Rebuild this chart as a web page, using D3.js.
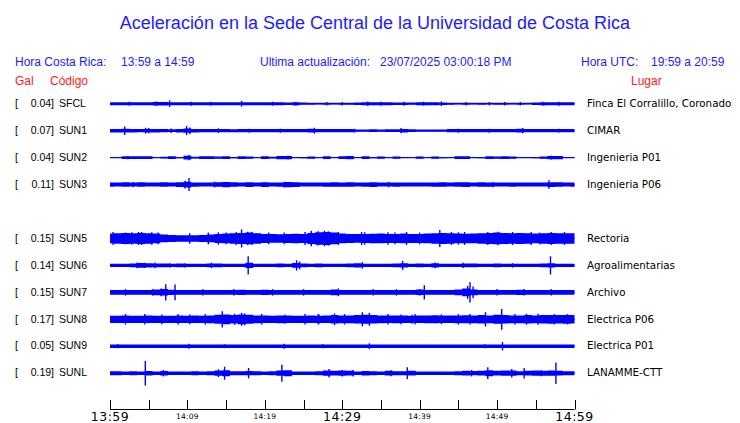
<!DOCTYPE html>
<html><head><meta charset="utf-8">
<script src="https://cdn.jsdelivr.net/npm/d3@7"></script>
<style>
html,body{margin:0;padding:0;background:#fff;}
svg{display:block;}
</style></head>
<body>
<script>
// ---------- data ----------
const title = "Aceleración en la Sede Central de la Universidad de Costa Rica";
const horaCR = "13:59 a 14:59";
const ultima = "23/07/2025 03:00:18 PM";
const horaUTC = "19:59 a 20:59";

const codes = ["SFCL","SUN1","SUN2","SUN3","SUN5","SUN6","SUN7","SUN8","SUN9","SUNL"];
const slots = [0,1,2,3,5,6,7,8,9,10];           // SUN4 slot left empty
const peaks = [0.04,0.07,0.04,0.11,0.15,0.14,0.15,0.17,0.05,0.19];
const places = ["Finca El Corralillo, Coronado","CIMAR","Ingenieria P01","Ingenieria P06",
  "Rectoria","Agroalimentarias","Archivo","Electrica P06","Electrica P01","LANAMME-CTT"];

const tickMinutes = [0,5,10,15,20,25,30,35,40,45,50,55,60];
const tickLabels = {0:"13:59",10:"14:09",20:"14:19",30:"14:29",40:"14:39",50:"14:49",60:"14:59"};
const majorTicks = [0,30,60];

// envelope half-amplitude (Gal), one value per minute 0..60
const envSFCL = [0.024,0.024,0.024,0.024,0.024,0.024,0.026,0.028,0.024,0.024,
  0.024,0.024,0.024,0.024,0.024,0.024,0.024,0.024,0.024,0.022,
  0.024,0.024,0.022,0.02,0.022,0.018,0.015,0.013,0.015,0.013,
  0.015,0.015,0.02,0.024,0.024,0.024,0.022,0.02,0.02,0.018,
  0.024,0.024,0.024,0.02,0.015,0.013,0.015,0.013,0.015,0.013,
  0.015,0.015,0.013,0.015,0.013,0.02,0.024,0.024,0.024,0.024,0.024];
const envSUN1 = [0.027,0.027,0.029,0.027,0.025,0.027,0.027,0.025,0.02,0.027,
  0.033,0.027,0.025,0.025,0.025,0.025,0.023,0.025,0.025,0.025,
  0.025,0.025,0.025,0.025,0.025,0.025,0.029,0.025,0.025,0.025,
  0.025,0.025,0.016,0.018,0.02,0.018,0.02,0.022,0.027,0.022,
  0.018,0.016,0.018,0.016,0.025,0.025,0.025,0.025,0.025,0.025,
  0.025,0.025,0.025,0.029,0.025,0.025,0.025,0.025,0.025,0.025,0.025];
const envSUN2 = [0.008,0.008,0.02,0.02,0.022,0.02,0.008,0.012,0.02,0.01,
  0.028,0.012,0.02,0.02,0.018,0.02,0.01,0.02,0.018,0.008,
  0.02,0.012,0.024,0.026,0.008,0.01,0.018,0.008,0.02,0.008,
  0.022,0.024,0.008,0.02,0.01,0.018,0.008,0.018,0.008,0.008,
  0.018,0.008,0.018,0.01,0.008,0.02,0.02,0.008,0.01,0.02,
  0.018,0.02,0.018,0.008,0.008,0.01,0.018,0.024,0.026,0.008,0.008];
const envSUN3 = [0.032,0.03,0.034,0.03,0.034,0.03,0.03,0.034,0.03,0.036,
  0.045,0.032,0.03,0.03,0.034,0.04,0.034,0.03,0.036,0.03,
  0.036,0.03,0.032,0.04,0.036,0.03,0.03,0.03,0.032,0.034,
  0.032,0.034,0.03,0.032,0.036,0.03,0.03,0.032,0.03,0.03,
  0.03,0.03,0.032,0.034,0.03,0.034,0.036,0.03,0.034,0.032,
  0.03,0.03,0.032,0.03,0.03,0.03,0.03,0.036,0.034,0.03,0.032];
const envSUN5 = [0.075,0.08,0.085,0.08,0.085,0.08,0.075,0.06,0.055,0.05,
  0.05,0.05,0.055,0.06,0.07,0.075,0.08,0.085,0.09,0.08,
  0.07,0.068,0.065,0.07,0.072,0.07,0.085,0.095,0.1,0.09,
  0.075,0.07,0.068,0.07,0.072,0.075,0.07,0.07,0.075,0.07,
  0.07,0.075,0.08,0.085,0.08,0.075,0.072,0.075,0.08,0.085,
  0.09,0.085,0.08,0.085,0.08,0.075,0.08,0.085,0.08,0.08,0.08];
const envSUN6 = [0.026,0.026,0.026,0.03,0.036,0.032,0.028,0.028,0.026,0.028,
  0.026,0.026,0.026,0.028,0.028,0.026,0.026,0.026,0.04,0.026,
  0.026,0.026,0.028,0.026,0.036,0.03,0.026,0.028,0.026,0.026,
  0.026,0.028,0.034,0.026,0.026,0.026,0.026,0.03,0.034,0.026,
  0.028,0.026,0.032,0.026,0.026,0.026,0.028,0.028,0.026,0.026,
  0.028,0.026,0.026,0.026,0.026,0.026,0.028,0.034,0.026,0.026,0.026];
const envSUN7 = [0.036,0.038,0.036,0.036,0.038,0.036,0.045,0.05,0.04,0.036,
  0.036,0.038,0.036,0.036,0.036,0.036,0.038,0.04,0.036,0.038,
  0.04,0.036,0.036,0.036,0.036,0.038,0.036,0.036,0.036,0.045,
  0.036,0.036,0.036,0.038,0.036,0.036,0.036,0.036,0.036,0.036,
  0.042,0.036,0.036,0.036,0.036,0.045,0.06,0.045,0.036,0.036,
  0.036,0.036,0.036,0.04,0.036,0.036,0.036,0.036,0.036,0.036,0.036];
const envSUN8 = [0.055,0.055,0.057,0.055,0.055,0.058,0.055,0.055,0.055,0.057,
  0.055,0.057,0.055,0.06,0.07,0.075,0.065,0.075,0.07,0.06,
  0.058,0.056,0.06,0.058,0.056,0.056,0.058,0.056,0.058,0.065,
  0.06,0.06,0.065,0.07,0.065,0.06,0.058,0.06,0.058,0.056,
  0.058,0.06,0.062,0.058,0.058,0.06,0.062,0.06,0.065,0.06,
  0.07,0.065,0.06,0.06,0.065,0.06,0.065,0.068,0.065,0.068,0.065];
const envSUN9 = [0.026,0.026,0.026,0.026,0.026,0.026,0.026,0.026,0.026,0.026,
  0.026,0.026,0.026,0.026,0.026,0.026,0.026,0.026,0.026,0.026,
  0.026,0.026,0.026,0.026,0.026,0.026,0.026,0.026,0.026,0.026,
  0.026,0.026,0.026,0.026,0.026,0.026,0.026,0.026,0.026,0.026,
  0.026,0.026,0.026,0.026,0.026,0.026,0.026,0.026,0.026,0.026,
  0.026,0.026,0.026,0.026,0.026,0.026,0.026,0.026,0.026,0.026,0.026];
const envSUNL = [0.03,0.03,0.026,0.03,0.028,0.034,0.028,0.034,0.028,0.028,
  0.026,0.03,0.028,0.03,0.04,0.045,0.03,0.03,0.032,0.03,
  0.028,0.03,0.04,0.045,0.028,0.026,0.026,0.03,0.04,0.036,
  0.04,0.036,0.026,0.034,0.03,0.026,0.036,0.03,0.03,0.036,
  0.026,0.026,0.026,0.026,0.026,0.03,0.036,0.032,0.036,0.045,
  0.036,0.04,0.04,0.03,0.036,0.04,0.038,0.04,0.036,0.03,0.03];

// spikes: [minute, half-amplitude in Gal]
const spkSFCL = [[7.7,0.05],[6.0,0.035],[17.0,0.045],[33.3,0.035],[35,0.03],[42.8,0.035],[10.5,0.03],
  [58,0.03],[49,0.026],[46,0.026],[51,0.026],[53,0.026],[28,0.026],[30,0.026],[2.5,0.03],[13,0.03],
  [21,0.03],[24,0.03],[38,0.03],[40.5,0.03],[56,0.03]];
const spkSUN1 = [[1.9,0.065],[4.6,0.045],[5.0,0.04],[9.9,0.07],[10.3,0.05],[14,0.035],[26.4,0.045],
  [37.6,0.04],[53.3,0.04],[31.6,0.03],[7.9,0.035],[18,0.03],[22,0.03],[45,0.03],[49,0.03],[58,0.03]];
const spkSUN2 = [[10.2,0.04],[23,0.03],[57,0.03],[2.3,0.025]];
const spkSUN3 = [[10.2,0.1],[9.7,0.06],[56.7,0.065],[13.5,0.045],[22.5,0.045],[49.5,0.04],[36,0.04],[3,0.04]];
const spkSUN5 = [[17,0.14],[26,0.12],[27.7,0.12],[42.6,0.13],[38.3,0.1],[3.7,0.1],[32.5,0.1],
  [48.8,0.1],[54.4,0.1],[12.7,0.09],[55.5,0.09],[2,0.09],
  [0.4,0.1],[2.8,0.095],[4.1,0.1],[5.4,0.095],[6.2,0.09],[10.3,0.08],[14,0.095],[15,0.09],
  [16.3,0.1],[17.8,0.105],[18.3,0.1],[25.2,0.1],[26.9,0.11],[28.2,0.11],[29.5,0.1],[32.9,0.095],
  [35.9,0.095],[44.1,0.1],[45,0.095],[45.8,0.1],[50.1,0.105],[57,0.1],[58.7,0.1],[20.5,0.09],
  [22.5,0.09],[36.8,0.09],[40,0.09],[52,0.1]];
const spkSUN6 = [[17.85,0.14],[24.1,0.08],[24.5,0.06],[37.8,0.07],[56.9,0.14],[3.5,0.045],[4.5,0.04],
  [5.8,0.045],[13.1,0.04],[32.6,0.05],[42,0.045],[45.6,0.04],[9.7,0.035],[7.7,0.035],[52,0.035]];
const spkSUN7 = [[7.2,0.125],[6.6,0.06],[8.4,0.12],[29.5,0.06],[40.6,0.11],[40.0,0.05],[46.5,0.155],
  [46.2,0.1],[46.9,0.09],[53.5,0.05],[21,0.05],[5.5,0.05],[2,0.05],[12,0.05],[16,0.05],
  [25,0.05],[34,0.05],[37,0.05],[50,0.05],[57,0.05]];
const spkSUN8 = [[14.5,0.125],[17.0,0.1],[17.4,0.09],[22.6,0.07],[29,0.09],[32.6,0.11],[33.5,0.1],
  [42.8,0.075],[46.5,0.08],[48.5,0.11],[50.6,0.16],[53.8,0.085],[27,0.07],[39,0.07],
  [2,0.08],[4.5,0.08],[6.7,0.075],[8.8,0.08],[10.3,0.075],[12.3,0.08],[16.1,0.085],[19.6,0.08],
  [25.2,0.08],[26.9,0.08],[30.3,0.08],[35.9,0.08],[37.6,0.075],[39.4,0.08],[45,0.08],[52.3,0.08],
  [55.3,0.085],[57.4,0.08],[59.1,0.08]];
const spkSUN9 = [[10.2,0.04],[22.5,0.04],[33.5,0.045],[50.7,0.065],[27.5,0.03],[14.8,0.03],[48.4,0.03],[1,0.03]];
const spkSUNL = [[4.56,0.19],[6.9,0.05],[14,0.06],[14.8,0.1],[17.9,0.08],[22.2,0.13],[28.3,0.065],
  [30,0.05],[31.4,0.05],[36.3,0.045],[38.4,0.09],[46.7,0.05],[48.8,0.09],[51.9,0.065],[53.5,0.08],
  [55.7,0.045],[57.6,0.165]];

const envs = [envSFCL,envSUN1,envSUN2,envSUN3,envSUN5,envSUN6,envSUN7,envSUN8,envSUN9,envSUNL];
const spks = [spkSFCL,spkSUN1,spkSUN2,spkSUN3,spkSUN5,spkSUN6,spkSUN7,spkSUN8,spkSUN9,spkSUNL];

// ---------- drawing ----------
const W = 740, H = 423;
const BLUE = "#1c1cff", RED = "#ff1a1a", TRACE = "#0000ff";
const sans = "'Liberation Sans', Arial, Helvetica, sans-serif";
const dejavu = "'DejaVu Sans', sans-serif";

const svg = d3.select("body").append("svg").attr("width", W).attr("height", H);

svg.append("text").attr("x", 375).attr("y", 29).attr("text-anchor","middle")
  .attr("font-family", sans).attr("font-size", 18).attr("fill", BLUE).text(title);

const hdr = [
  [15, "Hora Costa Rica:"], [121, horaCR],
  [260, "Ultima actualización:"], [380, ultima],
  [581, "Hora UTC:"], [651, horaUTC]
];
svg.selectAll("text.hdr").data(hdr).join("text").attr("class","hdr")
  .attr("x", d=>d[0]).attr("y", 65.5).attr("font-family", sans).attr("font-size", 12)
  .attr("fill", BLUE).text(d=>d[1]);

const red = [[15,"Gal"],[50,"Código"],[631,"Lugar"]];
svg.selectAll("text.red").data(red).join("text").attr("class","red")
  .attr("x", d=>d[0]).attr("y", 85).attr("font-family", sans).attr("font-size", 12)
  .attr("fill", RED).text(d=>d[1]);

const x = d3.scaleLinear().domain([0,60]).range([110, 574.5]);
const rowY = d3.scaleLinear().domain([0,10]).range([103.7, 373.2]);
const mins = d3.range(0, 61);

codes.forEach((code, i) => {
  const yc = rowY(slots[i]);
  const y = d3.scaleLinear().domain([-0.2, 0.2]).range([yc + 13, yc - 13]);
  const g = svg.append("g");

  g.append("text").attr("x", 15).attr("y", yc + 3.2).attr("font-family", sans)
    .attr("font-size", 10.5).attr("fill", "#000").text("[");
  g.append("text").attr("x", 54).attr("y", yc + 3.2).attr("text-anchor","end").attr("font-family", sans)
    .attr("font-size", 10.5).attr("fill", "#000").text(peaks[i].toFixed(2) + "]");
  g.append("text").attr("x", 59).attr("y", yc + 3.2).attr("font-family", sans)
    .attr("font-size", 10.5).attr("fill", "#000").text(code);
  g.append("text").attr("x", 587).attr("y", yc + 3.2).attr("font-family", dejavu)
    .attr("font-size", 10.3).attr("fill", "#000").text(places[i]);

  const area = d3.area().x((d,j)=>x(mins[j])).y0(d=>y(-d)).y1(d=>y(d)).curve(d3.curveStep);
  g.append("path").attr("d", area(envs[i])).attr("fill", TRACE);
  g.append("line").attr("x1", x(0)).attr("x2", x(60)).attr("y1", yc).attr("y2", yc)
    .attr("stroke", TRACE).attr("stroke-width", 1.2);
  g.selectAll("line.spk").data(spks[i]).join("line").attr("class","spk")
    .attr("x1", d=>x(d[0])).attr("x2", d=>x(d[0]))
    .attr("y1", d=>y(-d[1])).attr("y2", d=>y(d[1]))
    .attr("stroke", TRACE).attr("stroke-width", 1.4);
});

// time axis
const ax = svg.append("g");
ax.append("line").attr("x1", x(0)).attr("x2", x(60)).attr("y1", 409.5).attr("y2", 409.5)
  .attr("stroke", "#000").attr("stroke-width", 1);
ax.selectAll("line.tk").data(tickMinutes).join("line").attr("class","tk")
  .attr("x1", d=>Math.round(x(d))+0.5).attr("x2", d=>Math.round(x(d))+0.5)
  .attr("y1", 400).attr("y2", 409.5).attr("stroke", "#000").attr("stroke-width", 1);
ax.selectAll("text.tl").data(Object.keys(tickLabels).map(Number)).join("text").attr("class","tl")
  .attr("x", d=>x(d)).attr("y", d=> majorTicks.includes(d) ? 421 : 418.5)
  .attr("text-anchor","middle").attr("font-family", dejavu)
  .attr("font-size", d=> majorTicks.includes(d) ? 12.5 : 7.5)
  .attr("letter-spacing", d=> majorTicks.includes(d) ? 0.5 : 0.2)
  .attr("fill", "#000").text(d=>tickLabels[d]);
</script>
</body></html>
